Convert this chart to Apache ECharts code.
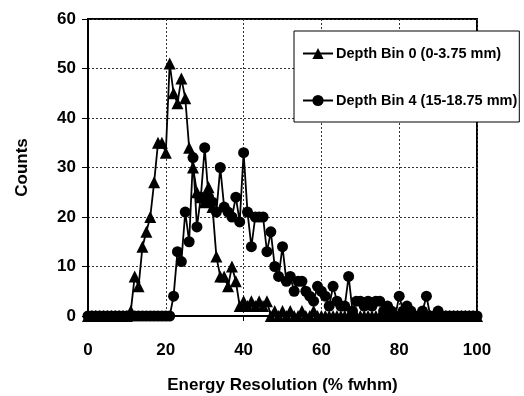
<!DOCTYPE html>
<html>
<head>
<meta charset="utf-8">
<script src="https://cdn.jsdelivr.net/npm/echarts@6/dist/echarts.min.js"></script>
<style>html,body{margin:0;padding:0;background:#fff;}#c{width:524px;height:396px;}</style>
</head>
<body>
<div id="c"></div>
<script>
// x bins (% fwhm)
const xBins = [0,1,2,3,4,5,6,7,8,9,10,11,12,13,14,15,16,17,18,19,20,21,22,23,24,25,26,27,28,29,30,31,32,33,34,35,36,37,38,39,40,41,42,43,44,45,46,47,48,49,50,51,52,53,54,55,56,57,58,59,60,61,62,63,64,65,66,67,68,69,70,71,72,73,74,75,76,77,78,79,80,81,82,83,84,85,86,87,88,89,90,91,92,93,94,95,96,97,98,99,100];
// Depth Bin 0 (0-3.75 mm)
const bin0 = [0,0,0,0,0,0,0,0,0,0,0,1,8,6,14,17,20,27,35,35,33,51,45,43,48,44,34,30,25,24,23,26,22,12,8,8,6,10,7,2,3,2,3,2,3,2,3,0,1,0,1,0,1,0,0,1,0,0,1,0,0,0,0,0,0,0,0,0,0,0,0,0,0,0,0,0,0,0,0,0,0,0,0,0,0,0,0,0,0,0,0,0,0,0,0,0,0,0,0,0,0];
// Depth Bin 4 (15-18.75 mm)
const bin4 = [0,0,0,0,0,0,0,0,0,0,0,0,0,0,0,0,0,0,0,0,0,0,4,13,11,21,15,32,18,24,34,24,23,21,30,22,21,20,24,19,33,21,14,20,20,20,13,17,10,8,14,7,8,5,7,7,5,4,3,6,5,4,2,6,3,2,2,8,1,3,3,2,3,2,3,3,1,2,1,0,4,1,2,1,0,0,1,4,0,0,1,0,0,0,0,0,0,0,0,0,0];
const seriesNames = ['Depth Bin 0 (0-3.75 mm)', 'Depth Bin 4 (15-18.75 mm)'];
const xTicks = [0,20,40,60,80,100];
const yTicks = [0,10,20,30,40,50,60];

const pairs = (ys) => xBins.map((x, i) => [x, ys[i]]);
const font = 'Liberation Sans, Arial, sans-serif';
const chart = echarts.init(document.getElementById('c'), null, {renderer: 'canvas'});
chart.setOption({
  animation: false,
  backgroundColor: '#fff',
  grid: {left: 88, right: 47, top: 19, bottom: 80, containLabel: false, outerBoundsMode: 'none',
         show: true, borderColor: '#000', borderWidth: 2, backgroundColor: 'transparent'},
  legend: {
    orient: 'vertical', left: 294, top: 31,
    backgroundColor: '#fff', borderColor: '#000', borderWidth: 1,
    padding: [15, 2, 14, 8], itemGap: 32, itemWidth: 30, itemHeight: 14,
    textStyle: {fontFamily: font, fontWeight: 'bold', fontSize: 14.5, color: '#000', padding: [0, 0, 0, -2]},
    data: [seriesNames[0], seriesNames[1]]
  },
  xAxis: {
    type: 'value', min: xTicks[0], max: xTicks[xTicks.length - 1], interval: 20,
    name: 'Energy Resolution (% fwhm)', nameLocation: 'middle', nameGap: 61,
    nameTextStyle: {fontFamily: font, fontWeight: 'bold', fontSize: 17, color: '#000'},
    axisLine: {show: true, onZero: false, lineStyle: {color: '#000', width: 2}},
    axisTick: {show: true, inside: false, length: 5, lineStyle: {color: '#000', width: 1}},
    axisLabel: {margin: 26, fontFamily: font, fontWeight: 'bold', fontSize: 17, color: '#000'},
    splitLine: {show: true, lineStyle: {color: '#333', type: [2, 2], width: 1}}
  },
  yAxis: {
    type: 'value', min: yTicks[0], max: yTicks[yTicks.length - 1], interval: 10,
    name: 'Counts', nameLocation: 'middle', nameGap: 57,
    nameTextStyle: {fontFamily: font, fontWeight: 'bold', fontSize: 17, color: '#000'},
    axisLine: {show: true, lineStyle: {color: '#000', width: 2}},
    axisTick: {show: true, inside: false, length: 6, lineStyle: {color: '#000', width: 1}},
    axisLabel: {margin: 12, fontFamily: font, fontWeight: 'bold', fontSize: 17, color: '#000'},
    splitLine: {show: true, lineStyle: {color: '#333', type: [2, 2], width: 1}}
  },
  series: [
    {
      name: seriesNames[0], type: 'line', data: pairs(bin0),
      symbol: 'triangle', symbolSize: 12,
      lineStyle: {color: '#000', width: 1.8}, itemStyle: {color: '#000'}, z: 3
    },
    {
      name: seriesNames[1], type: 'line', data: pairs(bin4),
      symbol: 'circle', symbolSize: 11,
      lineStyle: {color: '#000', width: 1.8}, itemStyle: {color: '#000'}, z: 2
    }
  ]
});
</script>
</body>
</html>
